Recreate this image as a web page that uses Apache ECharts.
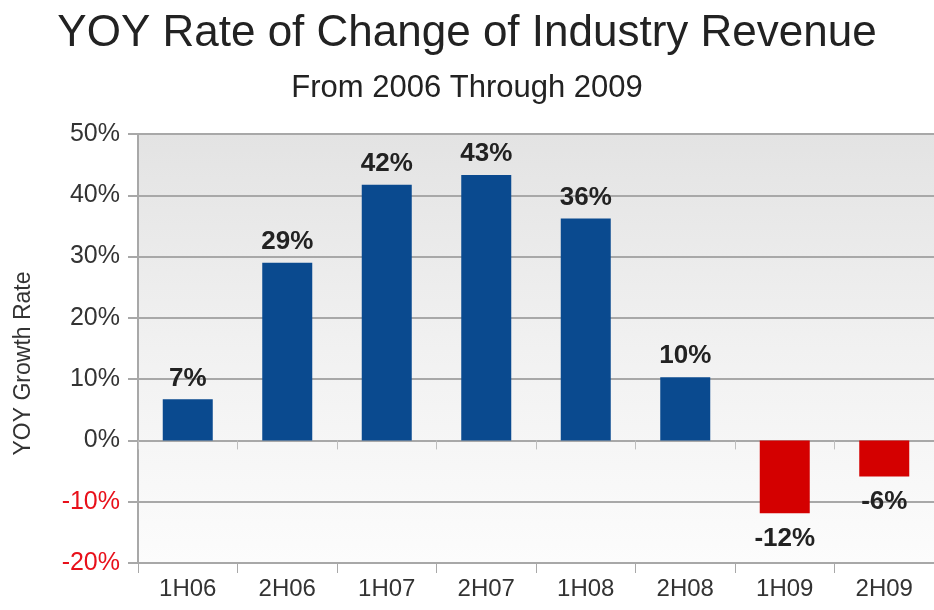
<!DOCTYPE html>
<html><head><meta charset="utf-8">
<script src="https://cdn.jsdelivr.net/npm/echarts@6/dist/echarts.min.js"></script>
<style>html,body{margin:0;padding:0;background:#fff;}#c{width:934px;height:610px;}</style>
</head><body><div id="c"></div>
<script>
var categories = ['1H06','2H06','1H07','2H07','1H08','2H08','1H09','2H09'];
var growth = [6.7, 29.0, 41.7, 43.3, 36.2, 10.3, -11.9, -5.9];
var titleText = 'YOY Rate of Change of Industry Revenue';
var subtitleText = 'From 2006 Through 2009';
var yAxisName = 'YOY Growth Rate';

var chart = echarts.init(document.getElementById('c'), null, {renderer:'canvas'});
var font = 'Liberation Sans, Arial, sans-serif';
var barData = growth.map(function(v){
  return v < 0 ? {value: v, label: {position: 'bottom', distance: 12}} : v;
});
chart.setOption({
  animation: false,
  backgroundColor: '#ffffff',
  title: [
    {text: titleText, left: 'center', top: 7, textStyle: {fontFamily: font, fontSize: 44, fontWeight: 'normal', color: '#222'}},
    {text: subtitleText, left: 'center', top: 68, textStyle: {fontFamily: font, fontSize: 31, fontWeight: 'normal', color: '#222'}}
  ],
  grid: {left: 138, right: -4, top: 134, bottom: 47, show: true, borderWidth: 0,
    backgroundColor: new echarts.graphic.LinearGradient(0,0,0,1,[{offset:0,color:'#e3e3e3'},{offset:0.5,color:'#f1f1f1'},{offset:1,color:'#fcfcfc'}])},
  xAxis: [
    {type: 'category', data: categories, position: 'bottom',
     axisLine: {onZero: false, show: true, lineStyle: {color: '#a8a8a8', width: 2}},
     axisTick: {show: true, length: 10, lineStyle: {color: '#a8a8a8', width: 1}},
     axisLabel: {fontFamily: font, fontSize: 24, color: '#333', margin: 14},
     splitLine: {show: false}},
    {type: 'category', data: categories, position: 'bottom',
     axisLine: {onZero: true, show: false},
     axisTick: {show: true, length: 9, lineStyle: {color: '#bdbdbd', width: 1}},
     axisLabel: {show: false}, splitLine: {show: false}}
  ],
  yAxis: {type: 'value', min: -20, max: 50, interval: 10,
    name: yAxisName, nameLocation: 'middle', nameGap: 103,
    nameTextStyle: {fontFamily: font, fontSize: 23, color: '#333', padding: [0, 30, 0, 0]},
    axisLine: {show: true, lineStyle: {color: '#a8a8a8', width: 2}},
    axisTick: {show: true, length: 10, lineStyle: {color: '#a8a8a8', width: 2}},
    axisLabel: {fontFamily: font, fontSize: 25, margin: 18, formatter: '{value}%',
      color: function(v){ return Number(v) < 0 ? '#e8101a' : '#333'; }},
    splitLine: {show: true, lineStyle: {color: '#a8a8a8', width: 2}}
  },
  series: [{
    type: 'bar', xAxisIndex: 0, data: barData, barWidth: 50,
    itemStyle: {color: function(p){ return p.value < 0 ? '#d40000' : '#0a4a8f'; }},
    label: {show: true, fontFamily: font, fontSize: 26, fontWeight: 'bold', color: '#222', distance: 8,
      position: 'top',
      formatter: function(p){ return Math.round(p.value) + '%'; }}
  }]
});
</script></body></html>
